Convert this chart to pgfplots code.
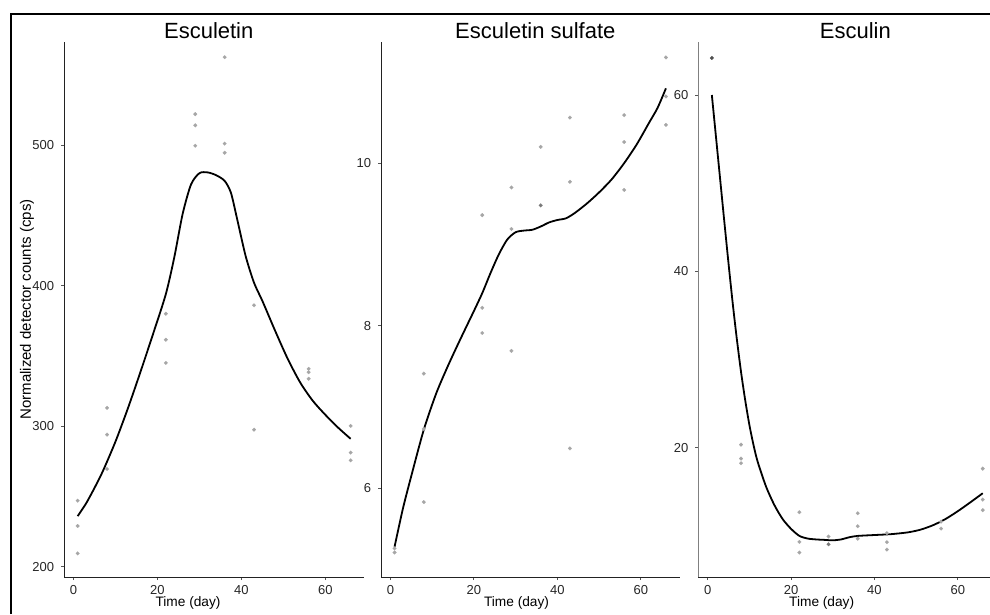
\documentclass[border=0pt]{standalone}
\usepackage{pgfplots}
\pgfplotsset{compat=1.18}
\usepackage{fontspec}
\setmainfont{Liberation Sans}
\definecolor{axcol}{HTML}{222222}
\definecolor{tickcol}{HTML}{555555}
\definecolor{ptcol}{HTML}{A6A6A6}
\definecolor{ptcol2}{HTML}{7A7A7A}
\definecolor{ptcol3}{HTML}{505050}
\pgfplotsset{
  panel/.style={
    scale only axis, height=535pt,
    axis lines=left,
    axis line style={-, line width=0.9pt, color=axcol},
    xmin=-2.25, xmax=69.25, xtick={0,20,40,60},
    tick align=outside, major tick length=3pt,
    tick style={tickcol, line width=0.8pt},
    /pgf/number format/assume math mode=true,
    ticklabel style={font=\fontsize{13}{15}\selectfont, text=black!85},
    x tick label style={inner sep=0pt, yshift=-5pt},
    y tick label style={inner sep=0pt, xshift=-6.7pt},
    xlabel={Time (day)},
    xlabel style={font=\fontsize{13.7}{16}\selectfont, anchor=base, yshift=-29.5pt},
    title style={font=\fontsize{22}{26}\selectfont, anchor=base, yshift=-2.3pt},
  },
  pts/.style={only marks, mark=*, mark size=1.9pt, color=ptcol,
    mark options={solid, draw=ptcol, fill=ptcol, line width=0.1pt}},
  pts2/.style={only marks, mark=*, mark size=1.9pt, color=ptcol2,
    mark options={solid, draw=ptcol2, fill=ptcol2, line width=0.1pt}},
  pts3/.style={only marks, mark=*, mark size=1.9pt, color=ptcol3,
    mark options={solid, draw=ptcol3, fill=ptcol3, line width=0.1pt}},
  fit/.style={black, line width=1.8pt, smooth, tension=0.45, mark=none},
}
\begin{document}
\begin{tikzpicture}
\useasboundingbox (0pt,0pt) rectangle (990pt,614pt);
\clip (0pt,0pt) rectangle (990pt,614pt);
\draw[line width=2pt] (10pt,600pt) -- (990pt,600pt);
\draw[line width=2pt] (11pt,0pt) -- (11pt,601pt);

% Panel 1: Esculetin
\begin{axis}[panel, at={(64pt,37pt)}, anchor=south west, width=300.3pt,
  ymin=192.7, ymax=573.3, ytick={200,300,400,500},
  title={Esculetin}, title style={at={(axis description cs:0.482,1)}},
  xlabel style={at={(axis description cs:0.413,0)}},
  ylabel={Normalized detector counts (cps)},
  ylabel style={font=\fontsize{15}{17}\selectfont, at={(axis description cs:-0.11,0.5)}, anchor=base},
]
\addplot[pts] coordinates {
(1,247) (1,229) (1,209.5)
(8,313) (8,294) (8,269.5)
(22,380) (22,361.5) (22,345)
(29,522) (29,514) (29,499.5)
(36,562.5) (36,501) (36,494.5)
(43,386) (43,297.5)
(56,340.8) (56,338.4) (56,333.7)
(66,300.2) (66,281.2) (66,275.7)
};
\addplot[fit] coordinates {
(1,236) (3,245) (5,256) (7,268) (10,289) (13,313) (16,339) (19,366) (22,394)
(24,420) (26,451) (28,472) (30,480) (32,480.5) (34,478.5) (36,474.5)
(37.5,466) (39,447) (41,421) (43,402) (45,389) (48,368) (51,348)
(54,331) (57,318) (60,308) (63,299) (66,291)
};
\end{axis}

% Panel 2: Esculetin sulfate
\begin{axis}[panel, at={(381pt,37pt)}, anchor=south west, width=298.5pt,
  ymin=4.908, ymax=11.49, ytick={6,8,10},
  title={Esculetin sulfate}, title style={at={(axis description cs:0.517,1)}},
  xlabel style={at={(axis description cs:0.454,0)}},
]
\addplot[pts] coordinates {
(1,5.26) (1,5.21)
(8,7.41) (8,6.73) (8,5.83)
(22,9.36) (22,8.22) (22,7.91)
(29,9.70) (29,9.19) (29,7.69)
(36,10.20)
(43,10.56) (43,9.77) (43,6.49)
(56,10.59) (56,10.26) (56,9.67)
(66,11.30) (66,10.82) (66,10.47)
};
\addplot[pts2] coordinates {
(36,9.48)
};
\addplot[fit] coordinates {
(1,5.28) (3,5.75) (5,6.15) (8,6.72) (11,7.17) (14,7.53) (17,7.86) (20,8.18)
(22,8.40) (24,8.65) (26,8.88) (28,9.06) (30,9.15) (32,9.17) (34,9.18)
(36,9.22) (38,9.27) (40,9.30) (42,9.32) (44,9.38) (47,9.50) (50,9.64)
(53,9.80) (56,10.00) (59,10.23) (62,10.50) (64,10.68) (66,10.92)
};
\end{axis}

% Panel 3: Esculin
\begin{axis}[panel, at={(698.3pt,37pt)}, anchor=south west, width=298pt,
  ymin=5.34, ymax=66.01, ytick={20,40,60},
  y axis line style={gray, line width=1.5pt},
  title={Esculin}, title style={at={(axis description cs:0.527,1)}},
  xlabel style={at={(axis description cs:0.414,0)}},
]
\addplot[pts] coordinates {
(8,20.35) (8,18.77) (8,18.24)
(22,12.69) (22,9.32) (22,8.11)
(29,9.93)
(36,12.57) (36,11.10) (36,9.69)
(43,10.31) (43,9.29) (43,8.45)
(56,11.62) (56,10.83)
(66,17.63) (66,14.12) (66,12.92)
};
\addplot[pts2] coordinates {
(29,9.05)
};
\addplot[pts3] coordinates {
(1,64.2)
};
\addplot[fit] coordinates {
(1,60) (2,55.2) (3,50.4) (4,45.6) (5,40.9) (6,36.4) (7,32.3) (8,28.6)
(9,25.4) (10,22.6) (11,20.3) (12,18.4) (14,15.6) (16,13.5) (18,11.9)
(20,10.8) (22,10.0) (24,9.7) (26,9.6) (28,9.55) (30,9.5) (32,9.6)
(34,9.85) (36,10.0) (40,10.1) (44,10.2) (48,10.4) (51,10.7) (54,11.2)
(57,11.9) (60,12.8) (63,13.8) (66,14.84)
};
\end{axis}
\end{tikzpicture}
\end{document}
